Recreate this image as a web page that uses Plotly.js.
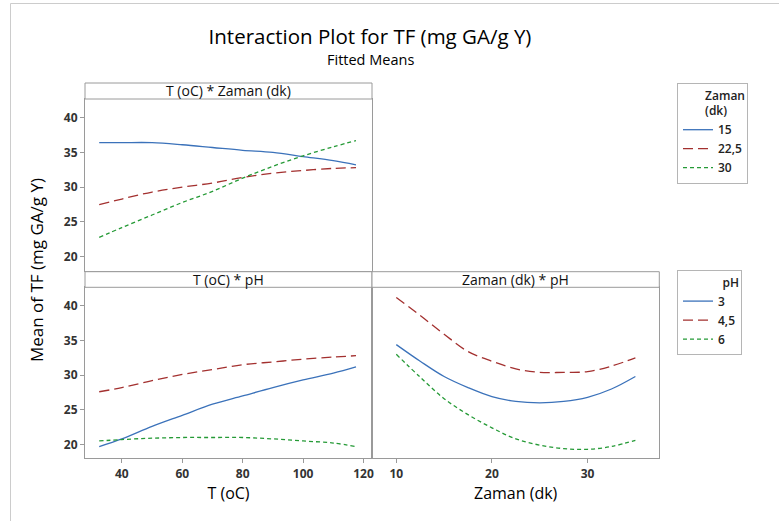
<!DOCTYPE html>
<html>
<head>
<meta charset="utf-8">
<script src="https://cdn.plot.ly/plotly-3.0.1.min.js"></script>
<style>html,body{margin:0;padding:0;background:#fff;}#chart{width:779px;height:521px;}</style>
</head>
<body>
<div id="chart"></div>
<script>
// ---- data ----
const T = [32.5, 40, 50, 60, 70, 80, 90, 100, 110, 117.5];
const Z = [10, 12.5, 15, 17.5, 20, 22.5, 25, 27.5, 30, 32.5, 35];

// Panel 1: T (oC) * Zaman (dk)
const zamanLevels = ["15", "22,5", "30"];
const tz15   = [36.4, 36.4, 36.4, 36.1, 35.7, 35.3, 35.0, 34.4, 33.8, 33.2];
const tz22_5 = [27.5, 28.3, 29.3, 30.0, 30.6, 31.4, 32.0, 32.4, 32.7, 32.8];
const tz30   = [22.8, 24.2, 26.0, 27.8, 29.4, 31.3, 33.0, 34.5, 35.8, 36.7];

// Panel 2: T (oC) * pH
const pHLevels = ["3", "4,5", "6"];
const tp3   = [19.7, 20.8, 22.6, 24.2, 25.8, 27.0, 28.2, 29.3, 30.3, 31.2];
const tp4_5 = [27.6, 28.2, 29.2, 30.1, 30.8, 31.5, 31.9, 32.3, 32.6, 32.8];
const tp6   = [20.5, 20.7, 20.9, 21.0, 21.0, 21.0, 20.8, 20.5, 20.2, 19.7];

// Panel 3: Zaman (dk) * pH
const zp3   = [34.4, 32.0, 29.8, 28.2, 26.9, 26.2, 26.0, 26.2, 26.8, 28.0, 29.8];
const zp4_5 = [41.2, 38.6, 35.9, 33.4, 32.0, 30.9, 30.4, 30.4, 30.5, 31.3, 32.5];
const zp6   = [33.0, 29.7, 26.6, 24.3, 22.4, 20.8, 19.9, 19.4, 19.3, 19.7, 20.6];

const yTicks = [20, 25, 30, 35, 40];
const tTicks = [40, 60, 80, 100, 120];
const zTicks = [10, 20, 30];

// ---- styling ----
const W = 779, H = 521;
const px = v => v / W;
const py = v => 1 - v / H;
const FONT = "Open Sans, Noto Sans, sans-serif";
const BLUE = "#3b72ba", RED = "#a3302f", GREEN = "#259a36";
const styles = [
  {color: BLUE, dash: "solid"},
  {color: RED, dash: "10px,5px"},
  {color: GREEN, dash: "4px,3px"}
];
const LINEC = "#9a9a9a";

function tr(x, y, i, name, xa, ya, leg, show, group) {
  return {
    x: x, y: y, name: name, type: "scatter", mode: "lines",
    line: {color: styles[i].color, dash: styles[i].dash, width: 1.3, shape: "spline"},
    xaxis: xa, yaxis: ya, legend: leg, showlegend: show, legendgroup: group
  };
}

const data = [
  tr(T, tz15, 0, zamanLevels[0], "x", "y", "legend", true, "z15"),
  tr(T, tz22_5, 1, zamanLevels[1], "x", "y", "legend", true, "z22"),
  tr(T, tz30, 2, zamanLevels[2], "x", "y", "legend", true, "z30"),
  tr(T, tp3, 0, pHLevels[0], "x2", "y2", "legend2", true, "p3"),
  tr(T, tp4_5, 1, pHLevels[1], "x2", "y2", "legend2", true, "p45"),
  tr(T, tp6, 2, pHLevels[2], "x2", "y2", "legend2", true, "p6"),
  tr(Z, zp3, 0, pHLevels[0], "x3", "y3", "legend2", false, "p3"),
  tr(Z, zp4_5, 1, pHLevels[1], "x3", "y3", "legend2", false, "p45"),
  tr(Z, zp6, 2, pHLevels[2], "x3", "y3", "legend2", false, "p6")
];

const tickFont = {family: FONT, size: 12, color: "#333", weight: "bold"};
const yRange = [18, 42.67];
const baseAxis = {showgrid: false, zeroline: false, showline: true, mirror: true,
  linecolor: LINEC, linewidth: 1, ticks: "outside", ticklen: 4, tickcolor: LINEC, tickfont: tickFont};

const xLeft = [px(85), px(372)];
const xRight = [px(372), px(659.3)];
const yTop = [py(270.7), py(99)];
const yBot = [py(458.3), py(287.3)];
const legFont = {family: FONT, size: 12, color: "#222", weight: 600};
const stripFont = {family: FONT, size: 14, color: "#111"};

const layout = {
  width: W, height: H,
  margin: {l: 0, r: 0, t: 0, b: 0},
  paper_bgcolor: "#fff", plot_bgcolor: "#fff",
  font: {family: FONT, color: "#222"},
  title: {
    text: "Interaction Plot for TF (mg GA/g Y)",
    font: {family: FONT, size: 20.5, color: "#000"},
    x: px(370), xanchor: "center", y: py(36.5), yanchor: "middle"
  },
  xaxis: Object.assign({}, baseAxis, {domain: xLeft, anchor: "y", range: [27.8, 122.8],
    showticklabels: false, ticks: ""}),
  yaxis: Object.assign({}, baseAxis, {domain: yTop, anchor: "x", range: yRange, tickvals: yTicks}),
  xaxis2: Object.assign({}, baseAxis, {domain: xLeft, anchor: "y2", range: [27.8, 122.8], tickvals: tTicks,
    title: {text: "T (oC)", font: {family: FONT, size: 16, color: "#000"}, standoff: 5}}),
  yaxis2: Object.assign({}, baseAxis, {domain: yBot, anchor: "x2", range: yRange, tickvals: yTicks}),
  xaxis3: Object.assign({}, baseAxis, {domain: xRight, anchor: "y3", range: [7.46, 37.5], tickvals: zTicks,
    title: {text: "Zaman (dk)", font: {family: FONT, size: 16, color: "#000"}, standoff: 5}}),
  yaxis3: Object.assign({}, baseAxis, {domain: yBot, anchor: "x3", range: yRange, tickvals: yTicks,
    showticklabels: false, ticks: ""}),
  legend: {
    x: px(677), y: py(83), xanchor: "left", yanchor: "top",
    bordercolor: "#b5b5b5", borderwidth: 1, bgcolor: "#fff",
    font: legFont,
    title: {text: "Zaman<br>(dk)", side: "top right", font: legFont},
    tracegroupgap: 0, itemwidth: 30
  },
  legend2: {
    x: px(677), y: py(270), xanchor: "left", yanchor: "top",
    bordercolor: "#b5b5b5", borderwidth: 1, bgcolor: "#fff",
    font: legFont,
    title: {text: "pH", side: "top right", font: legFont},
    tracegroupgap: 0, itemwidth: 30
  },
  shapes: [
    // outer frame lines
    {type: "line", xref: "paper", yref: "paper", x0: px(10.5), x1: px(10.5), y0: 0, y1: py(3.5), line: {color: "#cccccc", width: 1}},
    {type: "line", xref: "paper", yref: "paper", x0: px(10.5), x1: 1, y0: py(3.5), y1: py(3.5), line: {color: "#cccccc", width: 1}},
    // strips
    {type: "rect", xref: "paper", yref: "paper", x0: xLeft[0], x1: xLeft[1], y0: py(99), y1: py(83), line: {color: LINEC, width: 1}, fillcolor: "#fff"},
    {type: "rect", xref: "paper", yref: "paper", x0: xLeft[0], x1: xLeft[1], y0: py(287.3), y1: py(271.7), line: {color: LINEC, width: 1}, fillcolor: "#fff"},
    {type: "rect", xref: "paper", yref: "paper", x0: xRight[0], x1: xRight[1], y0: py(287.3), y1: py(271.7), line: {color: LINEC, width: 1}, fillcolor: "#fff"}
  ],
  annotations: [
    {text: "Fitted Means", xref: "paper", yref: "paper", x: px(370), y: py(60), xanchor: "center", yanchor: "middle", showarrow: false, font: {family: FONT, size: 14.5, color: "#000"}},
    {text: "T (oC) * Zaman (dk)", xref: "paper", yref: "paper", x: (xLeft[0] + xLeft[1]) / 2, y: py(91), xanchor: "center", yanchor: "middle", showarrow: false, font: stripFont},
    {text: "T (oC) * pH", xref: "paper", yref: "paper", x: (xLeft[0] + xLeft[1]) / 2, y: py(279.5), xanchor: "center", yanchor: "middle", showarrow: false, font: stripFont},
    {text: "Zaman (dk) * pH", xref: "paper", yref: "paper", x: (xRight[0] + xRight[1]) / 2, y: py(279.5), xanchor: "center", yanchor: "middle", showarrow: false, font: stripFont},
    {text: "Mean of TF (mg GA/g Y)", xref: "paper", yref: "paper", x: px(36), y: py(270), xanchor: "center", yanchor: "middle", textangle: -90, showarrow: false, font: {family: FONT, size: 17, color: "#000"}}
  ]
};

Plotly.newPlot("chart", data, layout, {displayModeBar: false, staticPlot: true});
</script>
</body>
</html>
